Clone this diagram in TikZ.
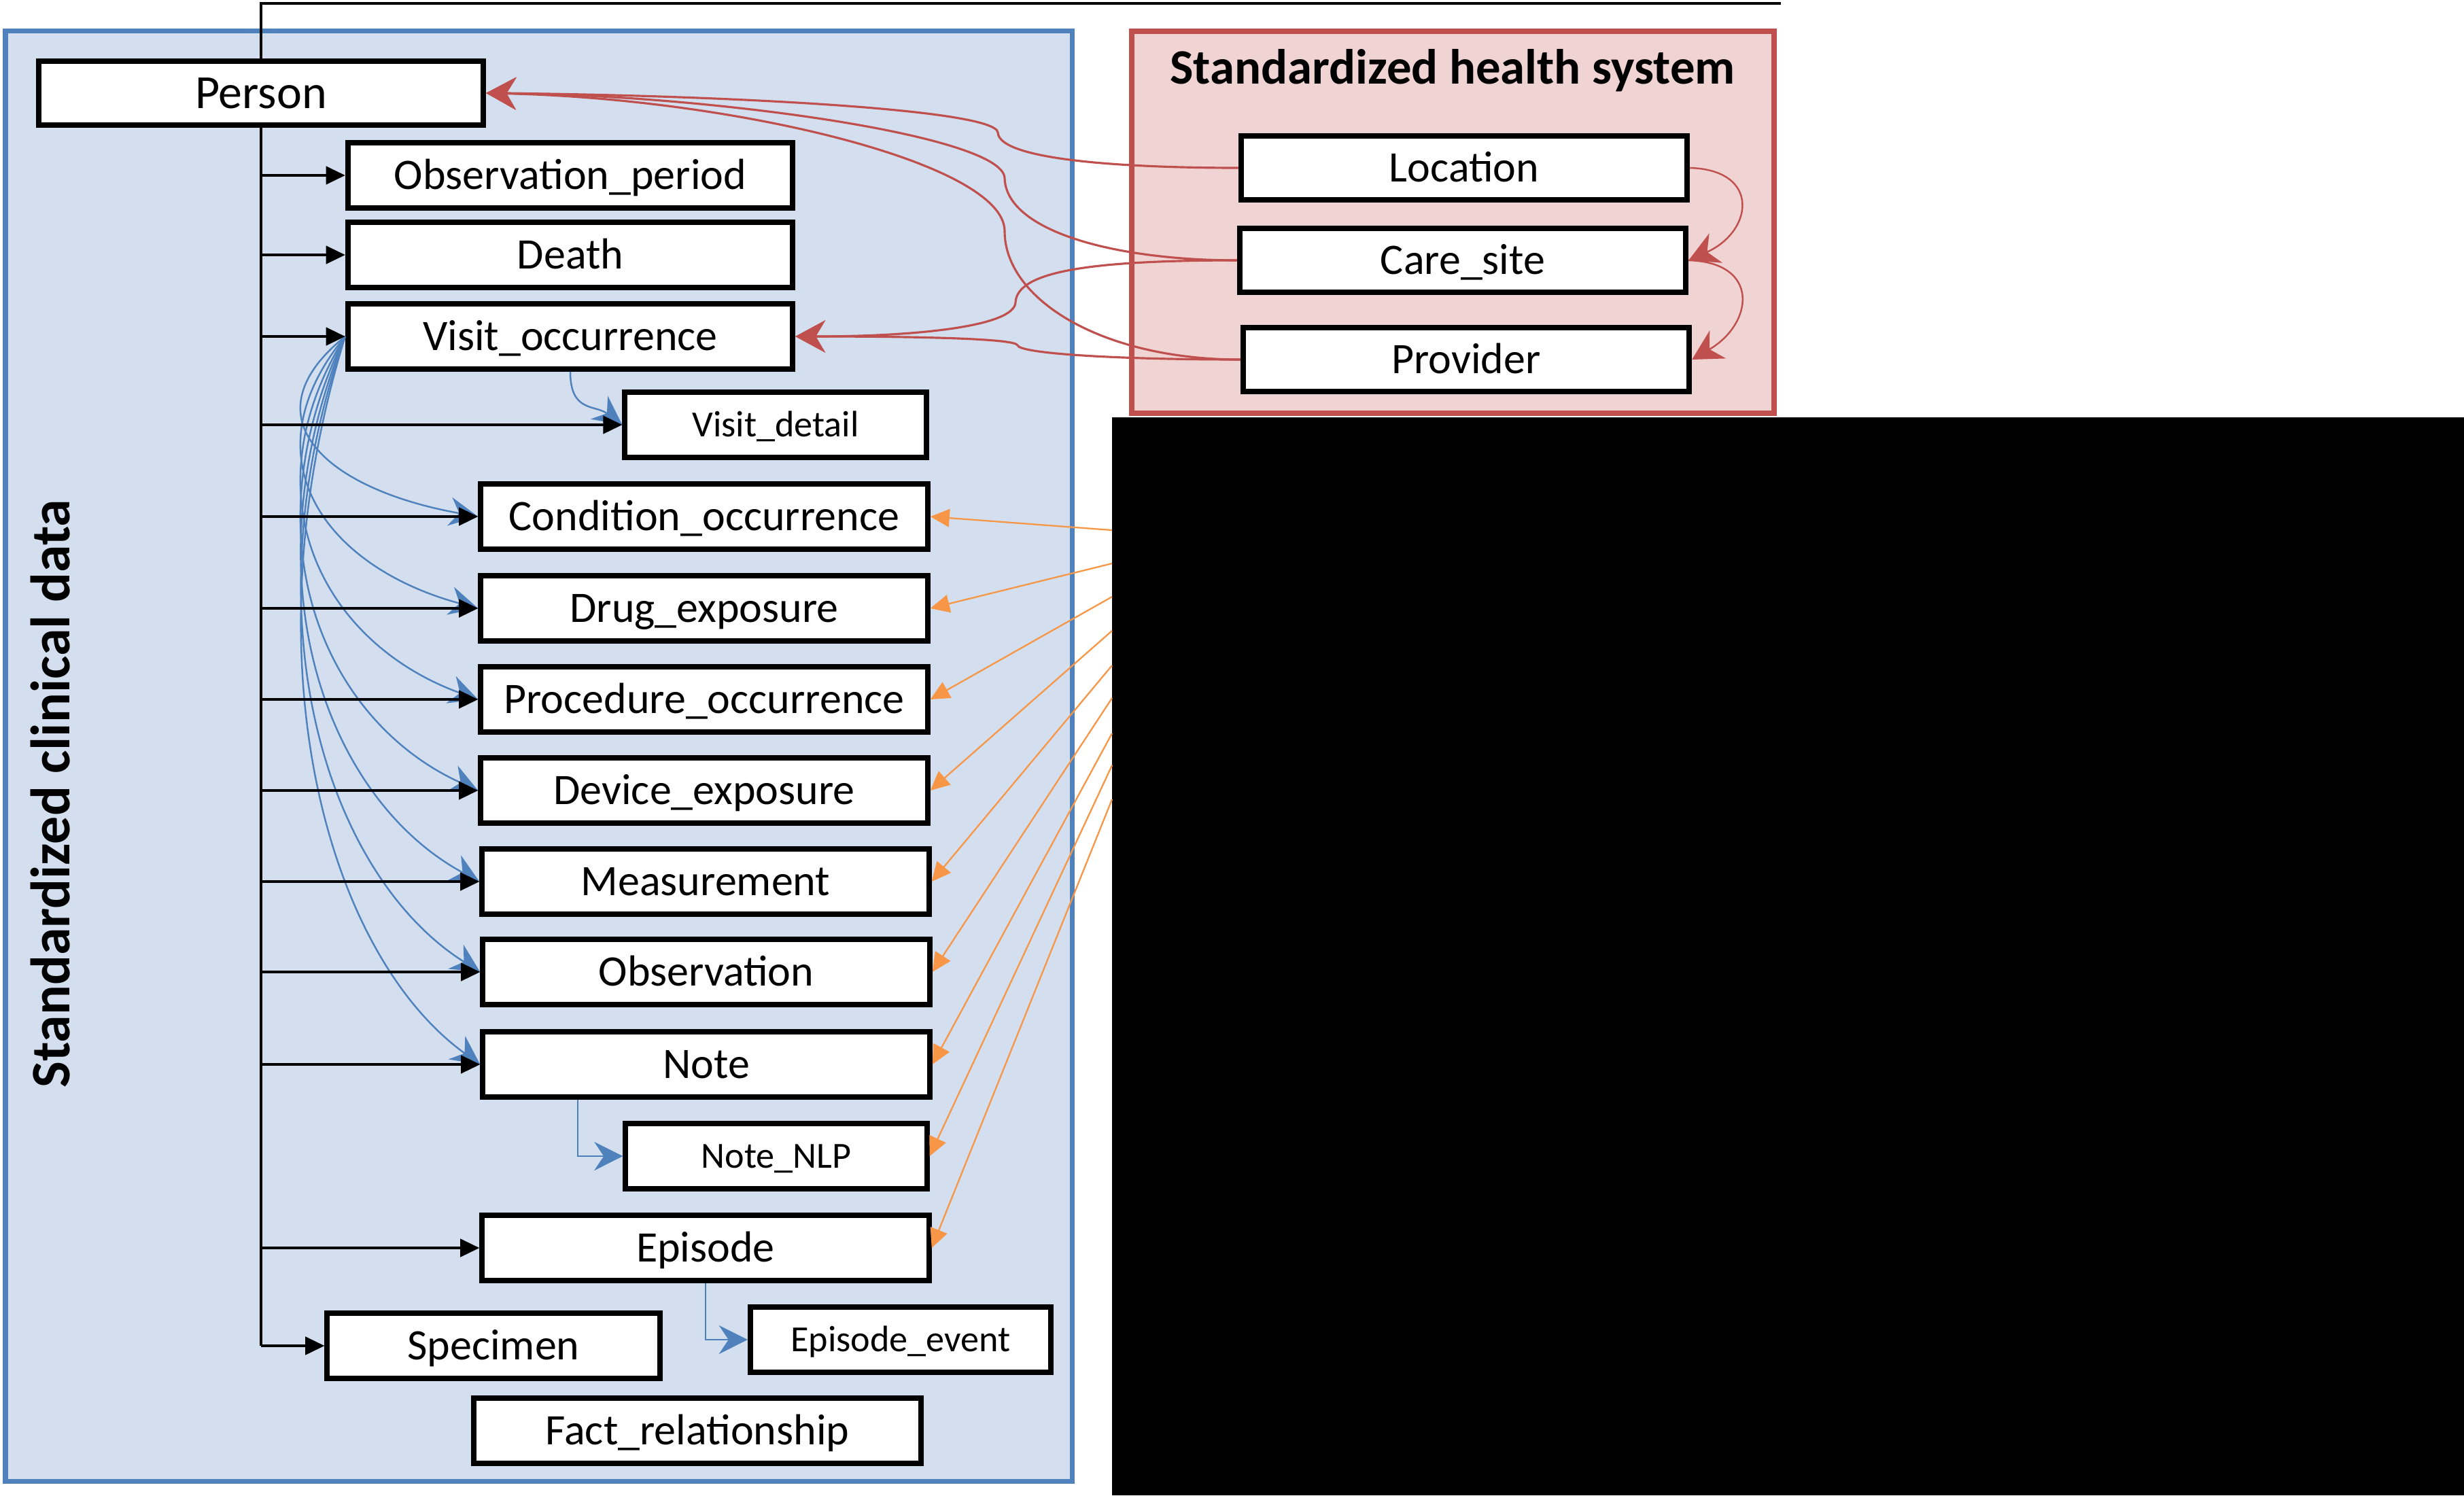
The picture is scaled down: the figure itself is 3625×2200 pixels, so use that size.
\documentclass[tikz,border=0pt]{standalone}
\usepackage{fontspec}
\setmainfont{Carlito}
\usetikzlibrary{arrows.meta}
\definecolor{cdmblue}{HTML}{4F81BD}
\definecolor{cdmbluefill}{HTML}{D3DFEE}
\definecolor{cdmred}{HTML}{C0504D}
\definecolor{cdmredfill}{HTML}{F0D4D3}
\definecolor{cdmorange}{HTML}{F79646}

\begin{document}
\begin{tikzpicture}
  [x=0.01cm,y=-0.01cm,every node/.style={draw,fill=white,line width=0.08cm,inner sep=0pt,
   minimum width=6.57cm,minimum height=0.96cm,text height=0.412cm,text depth=0pt,
   font=\fontsize{18.2}{20}\selectfont}]
 \tikzset{LinkStyle/.style={line width=1pt,-{Triangle[length=8pt,width=7.5pt]}},
   SubStyle/.style={cdmblue,line width=0.7pt,-{Stealth[length=12pt,width=12pt,inset=4pt]}},
   HealthStyle/.style={cdmred,line width=0.9pt,-{Stealth[length=12.5pt,width=13.5pt,inset=4pt]}},
   VocabStyle/.style={cdmorange,line width=0.65pt,-{Triangle[length=8pt,width=7.5pt]}},
   SmallBox/.style={minimum width=4.43cm,text height=0.348cm,font=\fontsize{15.4}{17}\selectfont},
   Label/.style={draw=none,fill=none,minimum width=0pt,minimum height=0pt,text height=,text depth=,anchor=base}}
  \useasboundingbox (0,0) rectangle (3625,2200);

  % domains
  \draw[cdmblue,fill=cdmbluefill,line width=0.07cm] (8,46) rectangle (1577,2179);
  \draw[cdmred,fill=cdmredfill,line width=0.08cm] (1665,46) rectangle (2610,608);
  \fill[black] (1636,614) rectangle (3625,2200);

  \node[Label,rotate=90,font=\bfseries\fontsize{23.3}{26}\selectfont] (clinical) at (102,1168) {Standardized clinical data};
  \node[Label,font=\bfseries\fontsize{20.7}{24}\selectfont] (health) at (2137,124) {Standardized health system};

  \node[minimum width=6.54cm,minimum height=0.94cm,text height=0.451cm,font=\fontsize{19.9}{22}\selectfont] (person) at (384,137) {Person};
 \node[minimum width=6.54cm] (obsper) at (839,258) {Observation\_period};
 \node[minimum width=6.54cm] (death) at (839,375) {Death};
  \node[minimum width=6.54cm] (visit) at (839,495) {Visit\_occurrence};
  \node[SmallBox] (vdetail) at (1141,625) {Visit\_detail};
  \node (cond) at (1036,760) {Condition\_occurrence};
  \node (drug) at (1036,895) {Drug\_exposure};
  \node (proc) at (1036,1029) {Procedure\_occurrence};
  \node (device) at (1036,1163) {Device\_exposure};
 \node (meas) at (1038,1297) {Measurement};
 \node (obs) at (1039,1430) {Observation};
  \node (note) at (1039,1566) {Note};
  \node[SmallBox] (nlp) at (1142,1701) {Note\_NLP};
  \node (episode) at (1038,1836) {Episode};
  \node[minimum width=4.89cm] (specimen) at (726,1980) {Specimen};
  \node[SmallBox,minimum width=4.42cm] (epevent) at (1325,1971) {Episode\_event};
  \node (fact) at (1026,2105) {Fact\_relationship};

  \node[minimum width=6.56cm,minimum height=0.94cm] (location) at (2154,247) {Location};
  \node[minimum width=6.56cm,minimum height=0.94cm] (caresite) at (2152,383) {Care\_site};
  \node[minimum width=6.56cm,minimum height=0.94cm] (provider) at (2157,529) {Provider};

  % visit links
 \foreach \t/\d in {cond/265,drug/400,proc/534,device/668,meas/802,obs/935,note/1071}
    \draw[SubStyle] (visit.west) .. controls +(-148,0.45*\d) and +(-223,-0.15*\d) .. (\t.west);
  \draw[SubStyle] (visit.south) .. controls +(0,60) and +(-40,-30) .. (vdetail.west);
  \draw[SubStyle] ([xshift=-1.89cm]note.south) |- (nlp.west);
  \draw[SubStyle] (episode.south) |- (epevent.west);

  % person links
  \coordinate (vocab) at (2620,5);
  \draw[line width=1pt] (person.north) |- (vocab);
  \draw[line width=1pt] (person.south) -- (person.south |- specimen.west);
 \foreach \t in {obsper,death,visit,vdetail,cond,drug,proc,device,meas,obs,note,episode,specimen}
    \draw[LinkStyle] (person.south |- \t.west) -- (\t.west);

  % health system links
  \draw[HealthStyle] (location.west) .. controls (1650,247) and (1470,235) .. (1468,195)
    .. controls (1465,160) and (1050,140) .. (person.east);
  \draw[HealthStyle] (caresite.west) .. controls (1640,383) and (1480,340) .. (1478,262)
    .. controls (1476,200) and (1050,140) .. (person.east);
  \draw[HealthStyle] (provider.west) .. controls (1620,529) and (1478,440) .. (1478,340)
    .. controls (1478,240) and (1080,145) .. (person.east);
  \draw[HealthStyle] (caresite.west) .. controls (1600,383) and (1496,400) .. (1494,445)
    .. controls (1492,480) and (1350,495) .. (visit.east);
  \draw[HealthStyle] (provider.west) .. controls (1640,529) and (1500,520) .. (1497,508)
    .. controls (1494,498) and (1350,495) .. (visit.east);
  \draw[HealthStyle,line width=0.7pt] (location.east) .. controls (2590,250) and (2580,340) .. (caresite.east);
  \draw[HealthStyle,line width=0.7pt] (caresite.east) .. controls (2590,386) and (2580,476) .. (provider.east);

  % vocabulary links
 \foreach \y/\t in {780/cond,829/drug,878/proc,928/device,979/meas,1027/obs,1079/note,1126/nlp,1176/episode}{
    \coordinate (v\t) at (1636,\y);
    \draw[VocabStyle] (v\t) -- (\t.east);
  }

\end{tikzpicture}
\end{document}
